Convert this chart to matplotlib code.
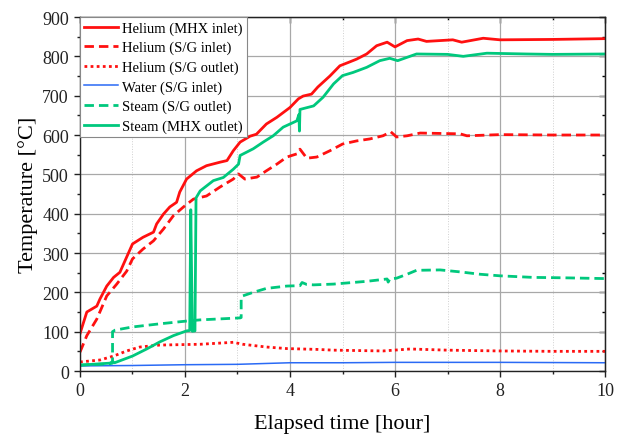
"""
Heat-up test temperatures vs elapsed time
"""

import matplotlib
matplotlib.use("Agg")
import matplotlib.pyplot as plt
from matplotlib.ticker import MultipleLocator

# ---- data ----
t_he_mhx_in = [0, 0.13, 0.32, 0.38, 0.51, 0.64, 0.76, 0.89, 1.0, 1.2, 1.4, 1.46, 1.59,
               1.71, 1.84, 1.9, 2.03, 2.22, 2.41, 2.67, 2.8, 2.92, 3.05, 3.24, 3.36,
               3.55, 3.75, 4.0, 4.16, 4.25, 4.41, 4.53, 4.76, 4.95, 5.14, 5.27, 5.46,
               5.65, 5.85, 6.0, 6.23, 6.44, 6.6, 7.1, 7.27, 7.68, 8.0, 9.0, 10.0]
T_he_mhx_in = [95, 150, 165, 183, 216, 238, 251, 290, 323, 340, 353, 374, 399,
               417, 429, 455, 488, 509, 522, 531, 535, 560, 582, 597, 602,
               628, 645, 670, 692, 699, 704, 722, 750, 776, 786, 793, 806,
               827, 836, 824, 840, 844, 838, 842, 836, 846, 842, 843, 845]

t_he_sg_in = [0, 0.13, 0.32, 0.51, 0.7, 0.89, 1.0, 1.2, 1.4, 1.59, 1.78, 1.97, 2.16,
              2.41, 2.67, 2.92, 3.02, 3.14, 3.37, 3.55, 3.75, 3.94, 4.13, 4.19, 4.32,
              4.51, 4.76, 5.0, 5.27, 5.52, 5.77, 5.92, 6.03, 6.23, 6.48, 7.24, 7.37,
              8.0, 9.0, 10.0]
T_he_sg_in = [48, 90, 132, 191, 221, 254, 285, 310, 331, 361, 395, 417, 437,
              445, 468, 488, 501, 488, 493, 509, 526, 544, 552, 564, 541,
              544, 560, 577, 585, 590, 598, 608, 595, 598, 605, 603, 598,
              601, 600, 600]

t_he_sg_out = [0, 0.38, 0.64, 0.89, 1.14, 1.52, 2.29, 2.92, 3.1, 3.55, 3.94, 4.5,
               4.83, 5.77, 6.29, 7.0, 8.0, 9.0, 10.0]
T_he_sg_out = [23, 28, 38, 51, 61, 66, 68, 73, 68, 61, 57, 55,
               53, 51, 56, 53, 51, 50, 50]

t_water_sg_in = [0, 1.0, 2.0, 3.0, 3.5, 4.0, 5.0, 6.0, 8.0, 10.0]
T_water_sg_in = [13, 14, 16, 17, 19, 21, 21, 22, 22, 21]

t_steam_sg_out = [0, 0.55, 0.62, 0.62, 0.67, 1.0, 1.52, 2.03, 2.29, 3.05, 3.07, 3.07,
                  3.1, 3.3, 3.55, 3.94, 4.19, 4.23, 4.32, 4.45, 4.83, 5.46, 5.85, 5.87,
                  5.9, 6.03, 6.23, 6.41, 6.86, 7.24, 7.62, 8.0, 8.63, 9.2, 10.0]
T_steam_sg_out = [15, 18, 20, 100, 104, 112, 120, 127, 130, 135, 136, 188,
                  191, 200, 210, 216, 217, 225, 220, 219, 221, 228, 234, 226,
                  234, 236, 246, 256, 257, 252, 246, 242, 238, 237, 235]

t_steam_mhx_out = [0, 0.57, 0.62, 0.66, 0.76, 1.0, 1.27, 1.52, 1.78, 2.03, 2.09, 2.11,
                   2.14, 2.19, 2.21, 2.29, 2.54, 2.73, 2.92, 3.02, 3.05, 3.3, 3.49,
                   3.68, 3.87, 4.0, 4.13, 4.17, 4.18, 4.19, 4.45, 4.63, 4.83, 5.0,
                   5.2, 5.46, 5.71, 5.9, 6.05, 6.41, 7.0, 7.3, 7.75, 8.5, 9.0, 10.0]
T_steam_mhx_out = [15, 20, 24, 21, 26, 38, 56, 74, 90, 102, 103, 410,
                   101, 102, 440, 458, 484, 492, 513, 526, 548, 565, 582,
                   598, 620, 628, 636, 652, 610, 665, 674, 696, 730, 751,
                   759, 772, 789, 795, 789, 806, 805, 800, 808, 806, 805, 806]

RED = "#ff1010"
GREEN = "#00c87d"
BLUE = "#2a6af5"
LW = 2.0

plt.rcParams["font.family"] = ["Liberation Serif", "DejaVu Serif"]

fig = plt.figure(figsize=(6.22, 4.35), dpi=100)
ax = fig.add_axes([0.1286, 0.1448, 0.8441, 0.8138])

ax.plot(t_he_mhx_in, T_he_mhx_in, color=RED, lw=LW, label="Helium (MHX inlet)")
ax.plot(t_he_sg_in, T_he_sg_in, color=RED, lw=LW, linestyle=(0, (3.4, 1.8)),
        label="Helium (S/G inlet)")
ax.plot(t_he_sg_out, T_he_sg_out, color=RED, lw=LW, linestyle=(0, (1.0, 1.2)),
        label="Helium (S/G outlet)")
ax.plot(t_water_sg_in, T_water_sg_in, color=BLUE, lw=1.1, label="Water (S/G inlet)")
ax.plot(t_steam_sg_out, T_steam_sg_out, color=GREEN, lw=LW, linestyle=(0, (3.4, 1.8)),
        label="Steam (S/G outlet)")
ax.plot(t_steam_mhx_out, T_steam_mhx_out, color=GREEN, lw=LW, label="Steam (MHX outlet)")

ax.set_xlim(0, 10)
ax.set_ylim(0, 900)
ax.xaxis.set_major_locator(MultipleLocator(2))
ax.xaxis.set_minor_locator(MultipleLocator(1))
ax.yaxis.set_major_locator(MultipleLocator(100))
ax.yaxis.set_minor_locator(MultipleLocator(50))

ax.grid(which="major", color="#a8a8a8", lw=0.9)
ax.grid(which="minor", axis="x", color="#d0d0d0", lw=0.7, linestyle=":")
ax.set_axisbelow(True)

ax.tick_params(which="both", labelsize=13, width=1.0, colors="#222222",
               top=False, right=False, direction="out")
ax.tick_params(which="major", length=4.5)
ax.tick_params(which="minor", length=2.5)

# mirrored ticks on top/right, pointing inward
ax2 = ax.secondary_xaxis("top")
ax2.xaxis.set_major_locator(MultipleLocator(2))
ax2.xaxis.set_minor_locator(MultipleLocator(1))
ax2.tick_params(which="both", direction="in", labeltop=False, width=1.0)
ax2.tick_params(which="major", length=4.5)
ax2.tick_params(which="minor", length=2.5)
ay2 = ax.secondary_yaxis("right")
ay2.yaxis.set_major_locator(MultipleLocator(100))
ay2.yaxis.set_minor_locator(MultipleLocator(50))
ay2.tick_params(which="both", direction="in", labelright=False, width=1.0)
ay2.tick_params(which="major", length=4.5)
ay2.tick_params(which="minor", length=2.5)

for sp in ax.spines.values():
    sp.set_linewidth(1.0)
    sp.set_color("#222222")

ax.set_xlabel("Elapsed time [hour]", fontsize=16, labelpad=11)
ax.set_ylabel("Temperature [°C]", fontsize=16, labelpad=3)

leg = ax.legend(loc="upper left", fontsize=10.5, frameon=True, fancybox=False,
                borderaxespad=0, handlelength=2.3, handletextpad=0.3,
                labelspacing=0.42, borderpad=0.3, framealpha=1)
leg.get_frame().set_edgecolor("#888888")
leg.get_frame().set_linewidth(0.8)

fig.savefig("out.png", dpi=100)
